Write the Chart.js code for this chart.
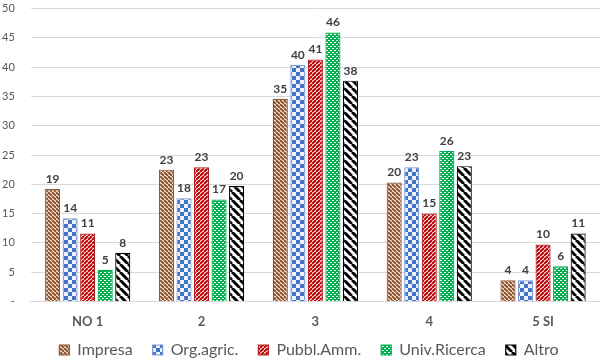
<!DOCTYPE html>
<html>
<head>
<meta charset="utf-8">
<script src="https://cdn.jsdelivr.net/npm/chart.js@4.4.1/dist/chart.umd.min.js"></script>
<style>
body { margin: 0; background: #fff; }
#wrap { width: 600px; height: 362px; }
</style>
</head>
<body>
<div id="wrap"><canvas id="ctx"></canvas></div>
<script>
var categories = ['NO 1', '2', '3', '4', '5 SI'];

var impresa = [19.2, 22.5, 34.6, 20.3, 3.6];
var orgAgric = [14.2, 17.6, 40.4, 22.9, 3.6];
var pubblAmm = [11.6, 22.9, 41.3, 15.0, 9.7];
var univRicerca = [5.4, 17.4, 45.9, 25.7, 6.0];
var altro = [8.3, 19.7, 37.7, 23.1, 11.6];

// numbers printed above the bars
var impresaLbl = ['19', '23', '35', '20', '4'];
var orgAgricLbl = ['14', '18', '40', '23', '4'];
var pubblAmmLbl = ['11', '23', '41', '15', '10'];
var univRicercaLbl = ['5', '17', '46', '26', '6'];
var altroLbl = ['8', '20', '38', '23', '11'];

var yTicks = [0, 5, 10, 15, 20, 25, 30, 35, 40, 45, 50];

function tile(size) {
    var cv = document.createElement('canvas');
    cv.width = size;
    cv.height = size;
    return cv;
}

function stripes(color, size, lw, back) {
    var cv = tile(size);
    var g = cv.getContext('2d');
    g.fillStyle = '#ffffff';
    g.fillRect(0, 0, size, size);
    g.strokeStyle = color;
    g.lineWidth = lw;
    for (var k = -size; k <= size; k += size) {
        g.beginPath();
        if (back) {
            g.moveTo(k, 0);
            g.lineTo(k + size, size);
        } else {
            g.moveTo(k + size, 0);
            g.lineTo(k, size);
        }
        g.stroke();
    }
    return g.createPattern(cv, 'repeat');
}

function checker(color, size) {
    var cv = tile(size * 2);
    var g = cv.getContext('2d');
    g.fillStyle = '#eef2fb';
    g.fillRect(0, 0, size * 2, size * 2);
    g.fillStyle = color;
    g.fillRect(0, 0, size, size);
    g.fillRect(size, size, size, size);
    return g.createPattern(cv, 'repeat');
}

function dots(color) {
    var cv = tile(4);
    var g = cv.getContext('2d');
    g.fillStyle = color;
    g.fillRect(0, 0, 4, 4);
    g.fillStyle = '#ffffff';
    g.fillRect(0, 0, 2, 1);
    g.fillRect(2, 2, 2, 1);
    return g.createPattern(cv, 'repeat');
}

var valueLabels = {
    id: 'valueLabels',
    afterDatasetsDraw: function (chart) {
        var c = chart.ctx;
        c.save();
        c.font = 'bold 12px Lato';
        c.fillStyle = '#404040';
        c.textAlign = 'center';
        c.textBaseline = 'bottom';
        chart.data.datasets.forEach(function (ds, i) {
            chart.getDatasetMeta(i).data.forEach(function (bar, j) {
                c.fillText(ds.valueText[j], bar.x, bar.y - 4);
            });
        });
        c.restore();
    }
};

// pull the legend up, closer to the axis labels, and a bit to the right
var legendShift = {
    id: 'legendShift',
    afterLayout: function (chart) {
        if (chart.legend) {
            chart.legend.top -= 21;
            chart.legend.bottom -= 21;
            chart.legend.left += 9;
            chart.legend.right += 9;
        }
    }
};

function ds(name, data, txt, fill, border) {
    return {
        label: name,
        data: data,
        valueText: txt,
        backgroundColor: fill,
        borderColor: border,
        borderWidth: 1.2,
        categoryPercentage: 0.77,
        barPercentage: 0.86
    };
}

const ctx = document.getElementById('ctx');
var chart = new Chart(ctx, {
    type: 'bar',
    data: {
        labels: categories,
        datasets: [
            ds('Impresa', impresa, impresaLbl, stripes('#8e4f22', 4, 2, true), '#8d5a33'),
            ds('Org.agric.', orgAgric, orgAgricLbl, checker('#4472c4', 4), '#7b9bd6'),
            ds('Pubbl.Amm.', pubblAmm, pubblAmmLbl, stripes('#c00000', 4, 2, false), '#b02020'),
            ds('Univ.Ricerca', univRicerca, univRicercaLbl, dots('#00b050'), '#00b050'),
            ds('Altro', altro, altroLbl, stripes('#000000', 8, 3, true), '#000000')
        ]
    },
    options: {
        responsive: true,
        maintainAspectRatio: false,
        animation: false,
        layout: { padding: { top: 0, right: 0, left: 0, bottom: -27 } },
        scales: {
            y: {
                min: 0,
                max: 50,
                afterBuildTicks: function (axis) {
                    axis.ticks = yTicks.map(function (v) { return { value: v }; });
                },
                ticks: {
                    color: '#595959',
                    font: { size: 11, family: 'Lato' },
                    padding: 2,
                    callback: function (v) { return v === 0 ? '-' : v; }
                },
                grid: { color: '#d9d9d9', drawTicks: true, tickLength: 14, tickColor: 'rgba(0,0,0,0)' },
                border: { display: false }
            },
            x: {
                ticks: {
                    color: '#595959',
                    font: { size: 13, weight: 'bold', family: 'Lato' },
                    padding: 13
                },
                grid: { display: false, drawTicks: false },
                border: { display: true, color: '#d9d9d9' }
            }
        },
        plugins: {
            legend: {
                position: 'bottom',
                labels: {
                    boxWidth: 10,
                    boxHeight: 10,
                    padding: 20,
                    color: '#595959',
                    font: { size: 16, family: 'Lato' }
                }
            },
            tooltip: { enabled: false }
        }
    },
    plugins: [valueLabels, legendShift]
});
</script>
</body>
</html>
